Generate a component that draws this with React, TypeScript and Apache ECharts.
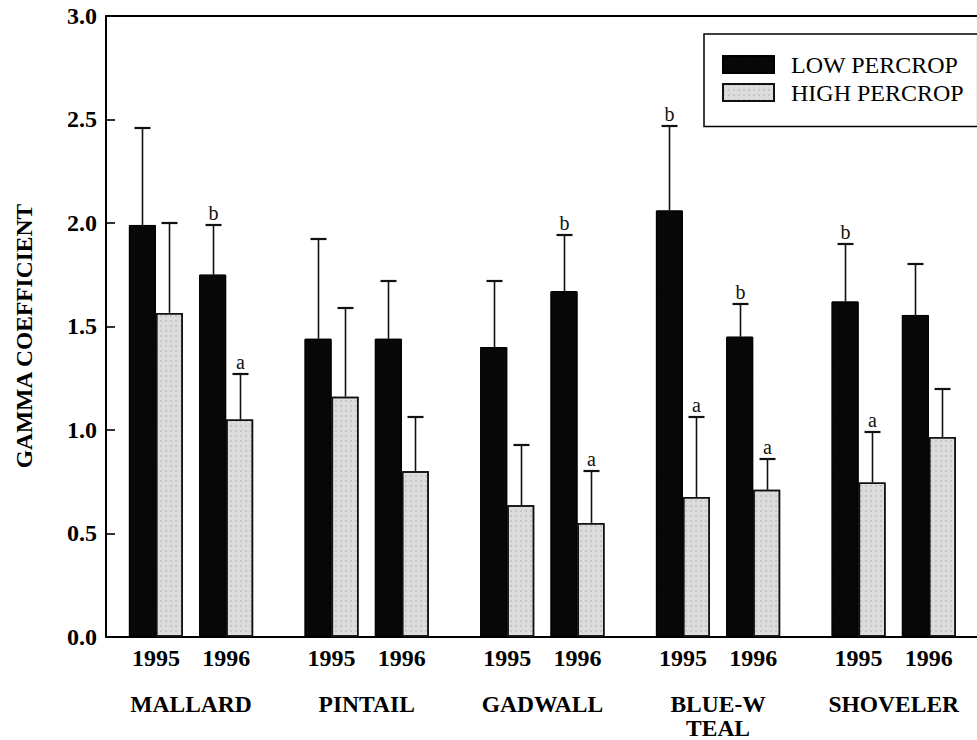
import React, { useEffect, useRef } from 'react';
import * as echarts from 'echarts';

const species = ['MALLARD', 'PINTAIL', 'GADWALL', 'BLUE-W\nTEAL', 'SHOVELER'];
const years = ['1995', '1996'];
const seriesNames = ['LOW PERCROP', 'HIGH PERCROP'];

// order: MALLARD 95, 96, PINTAIL 95, 96, GADWALL 95, 96, BLUE-W TEAL 95, 96, SHOVELER 95, 96
const lowMean = [1.99, 1.75, 1.44, 1.44, 1.40, 1.67, 2.06, 1.45, 1.62, 1.555];
const lowUpper = [2.46, 1.99, 1.92, 1.72, 1.72, 1.94, 2.47, 1.61, 1.90, 1.80];
const highMean = [1.565, 1.05, 1.16, 0.80, 0.635, 0.55, 0.675, 0.71, 0.745, 0.965];
const highUpper = [2.0, 1.27, 1.59, 1.06, 0.925, 0.80, 1.06, 0.86, 0.99, 1.195];
const lowSig = ['', 'b', '', '', '', 'b', 'b', 'b', 'b', ''];
const highSig = ['', 'a', '', '', '', 'a', 'a', 'a', 'a', ''];

const yMin = 0;
const yMax = 3;
const yInterval = 0.5;

// layout slots on the x value axis
const SPECIES_SLOT = 5;
const YEAR_STEP = 2;
const groupPos = species.flatMap((_, s) => years.map((_, y) => s * SPECIES_SLOT + y * YEAR_STEP));
const groupYear = species.flatMap(() => years);
const speciesPos = species.map((_, s) => s * SPECIES_SLOT + YEAR_STEP / 2);

const FONT = '"Liberation Serif", "Times New Roman", serif';
const BAR_W = 27;

function errorSeries(name: string, means: number[], uppers: number[], sig: string[], side: number) {
  return {
    type: 'custom',
    name: name + ' err',
    xAxisIndex: 0,
    yAxisIndex: 0,
    silent: true,
    z: 5,
    data: groupPos.map((p, i) => [p, means[i], uppers[i]]),
    renderItem: (params: any, api: any) => {
      const p = api.value(0);
      const base = api.coord([p, api.value(1)]);
      const top = api.coord([p, api.value(2)]);
      const cx = Math.round(base[0] + side * BAR_W / 2) + 0.5;
      const ty = Math.round(top[1]);
      const children: any[] = [
        { type: 'line', shape: { x1: cx, y1: base[1], x2: cx, y2: ty }, style: { stroke: '#111', lineWidth: 1.6 } },
        { type: 'line', shape: { x1: cx - 8, y1: ty, x2: cx + 8, y2: ty }, style: { stroke: '#111', lineWidth: 2.2 } },
      ];
      const letter = sig[params.dataIndex];
      if (letter) {
        children.push({
          type: 'text',
          x: cx,
          y: ty - 2,
          style: { text: letter, font: '20px ' + FONT, fill: '#111', align: 'center', verticalAlign: 'bottom' },
        });
      }
      return { type: 'group', children };
    },
  };
}

export default function App() {
  const ref = useRef<HTMLDivElement>(null);
  useEffect(() => {
    if (!ref.current) return;
    const chart = echarts.init(ref.current, null, { renderer: 'svg' });
    const xMin = -1.42;
    const xMax = 23.37;
    chart.setOption({
      animation: false,
      backgroundColor: '#fff',
      aria: { enabled: true, decal: { show: true } },
      grid: { left: 106, right: 0, top: 16, bottom: 103.3, outerBoundsMode: 'none', containLabel: false },
      legend: {
        orient: 'vertical',
        left: 704,
        top: 34,
        data: seriesNames,
        padding: [18.5, 14, 22, 18],
        borderColor: '#000',
        borderWidth: 1.5,
        itemWidth: 51,
        itemHeight: 17,
        itemGap: 4,
        icon: 'rect',
        textStyle: { fontFamily: FONT, fontSize: 24, color: '#000', padding: [0, 0, 0, 12] },
      },
      xAxis: [
        {
          type: 'value',
          min: xMin,
          max: xMax,
          position: 'bottom',
          axisLine: { show: true, onZero: false, lineStyle: { color: '#000', width: 2 } },
          axisTick: { show: false },
          splitLine: { show: false },
          axisLabel: {
            customValues: groupPos,
            formatter: (v: number) => {
              const i = groupPos.indexOf(Math.round(v));
              return i >= 0 ? groupYear[i] : '';
            },
            margin: 9,
            fontFamily: FONT,
            fontWeight: 'bold',
            fontSize: 24,
            color: '#000',
          },
        },
        {
          type: 'value',
          min: xMin,
          max: xMax,
          position: 'bottom',
          axisLine: { show: false, onZero: false },
          axisTick: { show: false },
          splitLine: { show: false },
          axisLabel: {
            customValues: speciesPos,
            formatter: (v: number) => {
              const i = speciesPos.indexOf(v);
              return i >= 0 ? species[i] : '';
            },
            margin: 56,
            lineHeight: 23.5,
            fontFamily: FONT,
            fontWeight: 'bold',
            fontSize: 23.5,
            color: '#000',
          },
        },
        {
          type: 'value',
          min: xMin,
          max: xMax,
          position: 'top',
          axisLine: { show: true, onZero: false, lineStyle: { color: '#000', width: 2 } },
          axisTick: { show: false },
          splitLine: { show: false },
          axisLabel: { show: false },
        },
      ],
      yAxis: {
        type: 'value',
        min: yMin,
        max: yMax,
        interval: yInterval,
        axisLine: { show: true, onZero: false, lineStyle: { color: '#000', width: 2 } },
        axisTick: { show: true, inside: true, length: 9, lineStyle: { color: '#000', width: 1.6 } },
        splitLine: { show: false },
        axisLabel: {
          formatter: (v: number) => v.toFixed(1),
          margin: 9,
          fontFamily: FONT,
          fontWeight: 'bold',
          fontSize: 24,
          color: '#000',
        },
      },
      graphic: [
        {
          type: 'text',
          x: 24,
          y: 336,
          rotation: Math.PI / 2,
          style: {
            text: 'GAMMA COEFFICIENT',
            font: 'bold 23.5px ' + FONT,
            fill: '#000',
            align: 'center',
            verticalAlign: 'middle',
          },
        },
      ],
      series: [
        {
          type: 'bar',
          name: seriesNames[0],
          xAxisIndex: 0,
          yAxisIndex: 0,
          barWidth: BAR_W,
          barGap: '0%',
          data: groupPos.map((p, i) => [p, lowMean[i]]),
          itemStyle: { color: '#080808', borderColor: '#000', borderWidth: 1, decal: 'none' },
        },
        {
          type: 'bar',
          name: seriesNames[1],
          xAxisIndex: 0,
          yAxisIndex: 0,
          barWidth: BAR_W,
          barGap: '0%',
          data: groupPos.map((p, i) => [p, highMean[i]]),
          itemStyle: {
            color: '#dcdcdc',
            borderColor: '#111',
            borderWidth: 1.5,
            decal: {
              symbol: 'circle',
              symbolSize: 0.6,
              color: 'rgba(60,60,60,0.4)',
              dashArrayX: [2, 3],
              dashArrayY: [2, 3],
              rotation: 0,
            },
          },
        },
        errorSeries(seriesNames[0], lowMean, lowUpper, lowSig, -1),
        errorSeries(seriesNames[1], highMean, highUpper, highSig, 1),
      ],
    });
    return () => chart.dispose();
  }, []);
  return <div ref={ref} style={{ position: 'absolute', left: 0, top: 0, width: 977, height: 740 }} />;
}
